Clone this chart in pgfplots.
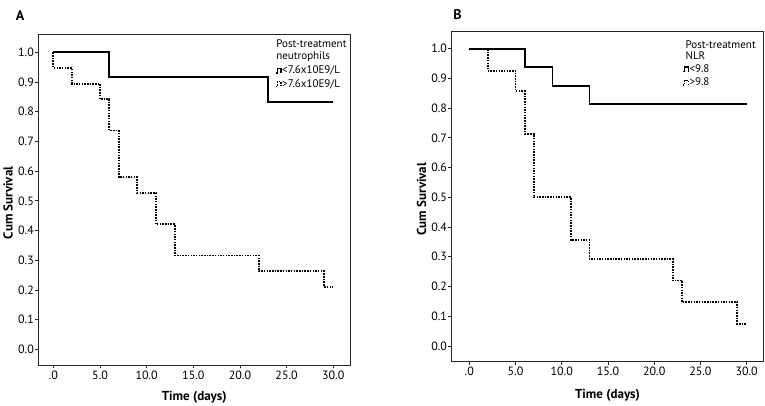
\documentclass[border=0pt]{standalone}
\usepackage{fontspec}
\setmainfont{PT Sans}
\usepackage{pgfplots}
\pgfplotsset{compat=1.18}

\tikzset{ttl/.style={anchor=west, inner sep=0.3pt, font=\fontsize{11}{13}\selectfont}}

\pgfplotsset{
  km/.style={
    scale only axis,
    width=311.5pt, height=331pt,
    xmin=-1.6, xmax=31.8,
    ymin=-0.053, ymax=1.062,
    axis line style={black!85, line width=0.8pt},
    tick pos=left,
    tick align=outside,
    major tick length=3.5pt,
    every tick/.style={black!85, line width=0.7pt},
    xtick={0,5,10,15,20,25,30},
    xticklabels={.0,5.0,10.0,15.0,20.0,25.0,30.0},
    ytick={0,0.1,0.2,0.3,0.4,0.5,0.6,0.7,0.8,0.9,1.0},
    yticklabels={0.0,0.1,0.2,0.3,0.4,0.5,0.6,0.7,0.8,0.9,1.0},
    ticklabel style={font=\fontsize{12}{14}\selectfont},
    yticklabel style={inner sep=1pt},
    xticklabel style={inner sep=2pt},
    xlabel={\textbf{Time (days)}},
    ylabel={\textbf{Cum Survival}},
    label style={font=\fontsize{13}{15}\selectfont},
    xlabel style={at={(axis description cs:0.5,-0.098)}, anchor=center},
    ylabel style={at={(axis description cs:-0.098,0.49)}, anchor=center},
    legend cell align=left,
    legend image code/.code={
      \draw[#1, line width=1.4pt] (0pt,-2.2pt) -- (1.8pt,-2.2pt) -- (1.8pt,2.6pt) -- (5.5pt,2.6pt) -- (5.5pt,-2.2pt);
    },
    legend style={draw=none, fill=none, anchor=north west,
      inner sep=0pt, row sep=3pt, column sep=0.5pt,
      nodes={inner sep=0pt, text height=8pt, text depth=2.5pt,
        font=\fontsize{11}{13}\selectfont}},
  },
  lo/.style={black, line width=1.9pt, const plot},
  hi/.style={black, line width=1.9pt, const plot, dash pattern=on 1.5pt off 1.2pt},
}

\begin{document}
\begin{tikzpicture}
\path[use as bounding box] (0pt,0pt) rectangle (765pt,406pt);

\node[font=\bfseries\fontsize{14}{16}\selectfont] at (20pt,390pt) {A};
\node[font=\bfseries\fontsize{14}{16}\selectfont] at (457.5pt,391pt) {B};

% Panel A: post-treatment neutrophils
\begin{axis}[km, at={(38.5pt,41pt)}, anchor=south west,
    legend style={at={(0.758,0.905)}}]
  \addplot[lo] coordinates {(0,1) (6,0.917) (23,0.833) (30,0.833)};
  \addplot[hi] coordinates {(0,1) (0,0.947) (2,0.895) (5,0.842) (6,0.737)
    (7,0.579) (9,0.526) (11,0.421) (13,0.316) (22,0.263) (29,0.211) (30,0.211)};
  \legend{<7.6x10E9/L, >7.6x10E9/L}
  \node[ttl] at (axis description cs:0.762,0.972) {Post-treatment};
  \node[ttl] at (axis description cs:0.762,0.930) {neutrophils};
\end{axis}

% Panel B: post-treatment NLR
\begin{axis}[km, at={(451.7pt,44.3pt)}, anchor=south west,
    width=311.6pt, height=330pt, xmin=-1.9, xmax=31.8, ymin=-0.053, ymax=1.057,
    ylabel style={at={(axis description cs:-0.097,0.493)}},
    xlabel style={at={(axis description cs:0.5,-0.101)}},
    legend style={at={(0.739,0.902)}}]
  \addplot[lo] coordinates {(0,1) (6,0.9375) (9,0.875) (13,0.8125) (30,0.8125)};
  \addplot[hi] coordinates {(0,1) (2,0.926) (5,0.857) (6,0.714) (7,0.5)
    (11,0.357) (13,0.293) (22,0.220) (23,0.147) (29,0.073) (30,0.073)};
  \legend{<9.8, >9.8}
  \node[ttl] at (axis description cs:0.749,0.962) {Post-treatment};
  \node[ttl] at (axis description cs:0.749,0.926) {NLR};
\end{axis}
\end{tikzpicture}
\end{document}
